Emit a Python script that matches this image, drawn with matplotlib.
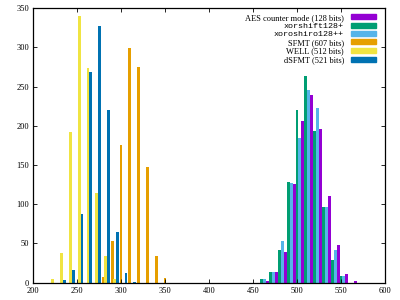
import numpy as np
import matplotlib
matplotlib.use('Agg')
import matplotlib.pyplot as plt
import matplotlib.patches as mpatches

# bins (left value of each 10-wide bin) and counts per generator
aes_bins = [460, 470, 480, 490, 500, 510, 520, 530, 540, 550, 560]
aes_vals = [2, 14, 39, 126, 206, 239, 196, 110, 48, 11, 2]
xs_bins = [460, 470, 480, 490, 500, 510, 520, 530, 540, 550]
xs_vals = [4, 13, 42, 128, 220, 263, 193, 96, 29, 9]
xo_bins = [460, 470, 480, 490, 500, 510, 520, 530, 540, 550]
xo_vals = [4, 13, 53, 127, 185, 245, 222, 97, 42, 8]
sfmt_bins = [280, 290, 300, 310, 320, 330, 340, 350]
sfmt_vals = [7, 53, 176, 299, 275, 148, 34, 6]
well_bins = [220, 230, 240, 250, 260, 270, 280, 290]
well_vals = [5, 38, 192, 340, 273, 114, 34, 4]
dsfmt_bins = [230, 240, 250, 260, 270, 280, 290, 300, 310]
dsfmt_vals = [3, 16, 88, 268, 327, 220, 65, 12, 1]

labels = ['AES counter mode (128 bits)', 'xorshift128+', 'xoroshiro128++',
          'SFMT (607 bits)', 'WELL (512 bits)', 'dSFMT (521 bits)']
colors = ['#9400d3', '#009e73', '#56b4e9', '#e69f00', '#f0e442', '#0072b2']

plt.rcParams['font.family'] = ['Liberation Serif', 'DejaVu Serif']

fig = plt.figure(figsize=(4, 3), dpi=100)
ax = fig.add_axes([0.0825, 0.058, 0.88, 0.915])

w = 3.2
series = [(aes_bins, aes_vals, 6.7), (xs_bins, xs_vals, 0.0), (xo_bins, xo_vals, 3.3),
          (sfmt_bins, sfmt_vals, 0.0), (well_bins, well_vals, 2.6), (dsfmt_bins, dsfmt_vals, 5.7)]
for (b, v, off), c in zip(series, colors):
    ax.bar(np.array(b) + off, v, width=w, color=c, edgecolor='none')

ax.set_xlim(200, 600)
ax.set_ylim(0, 350)
ax.set_xticks(np.arange(200, 601, 50))
ax.set_yticks(np.arange(0, 351, 50))
ax.tick_params(direction='in', top=True, right=True, labelsize=6, length=3, width=0.6, pad=3)
for s in ax.spines.values():
    s.set_linewidth(0.9)

handles = [mpatches.Patch(color=c, label=l) for c, l in zip(colors, labels)]
leg = ax.legend(handles=handles, loc='upper right', bbox_to_anchor=(0.99, 1.0),
                markerfirst=False, frameon=False,
                fontsize=6, handlelength=3, handleheight=0.55, labelspacing=0.08,
                borderaxespad=0.3, handletextpad=0.8)
for t in leg.get_texts()[1:3]:
    t.set_family('Liberation Mono')

fig.savefig('out.png', dpi=100)
